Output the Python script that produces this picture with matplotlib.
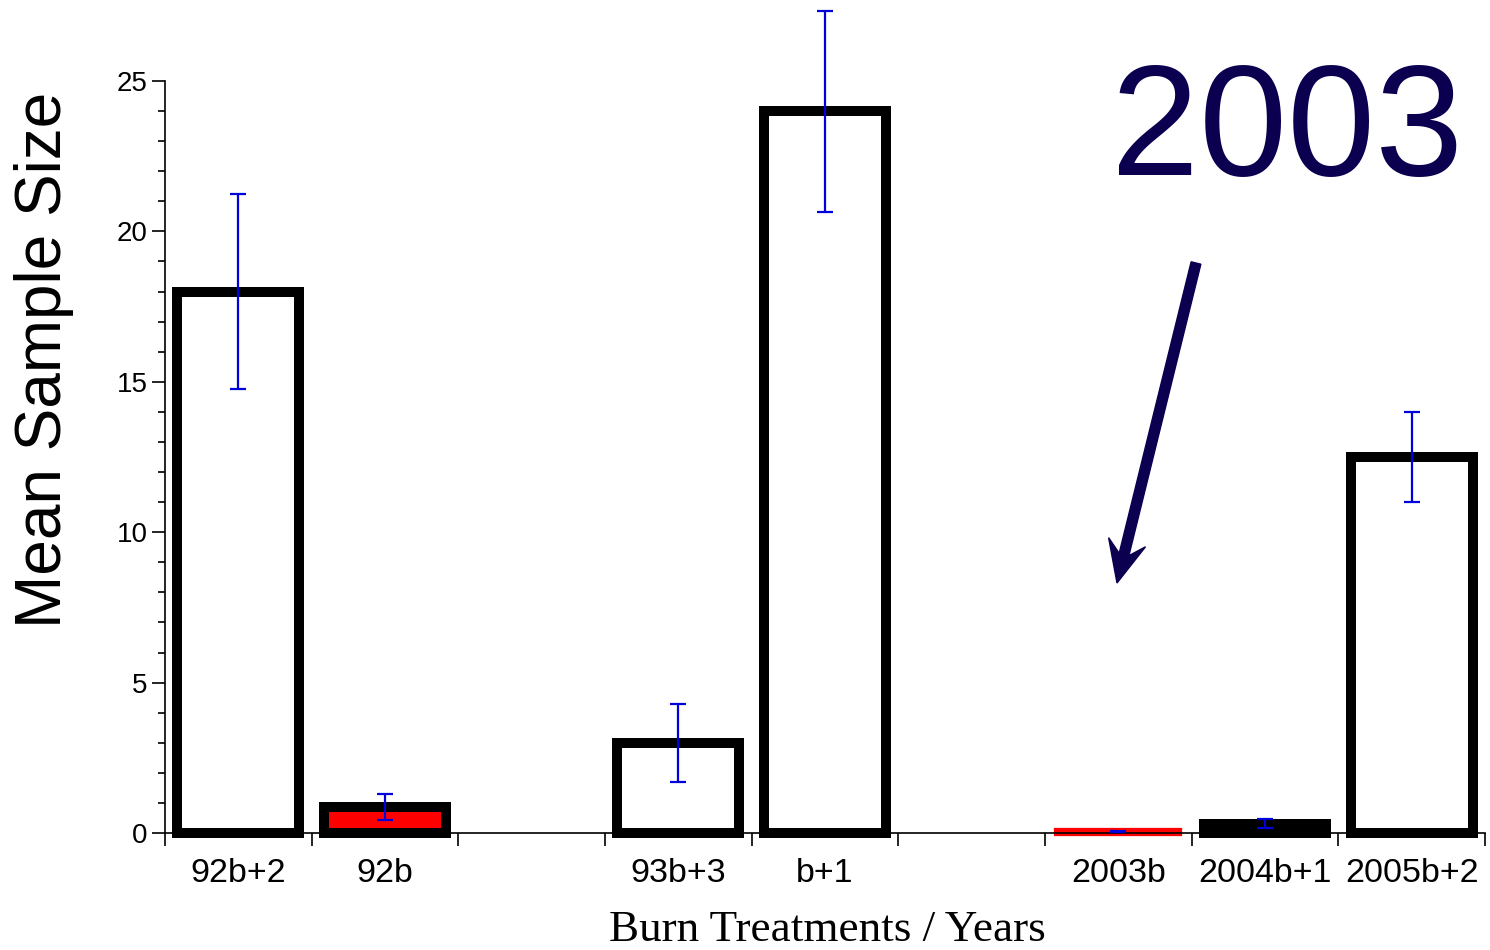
import numpy as np
import matplotlib
matplotlib.use('Agg')
import matplotlib.pyplot as plt
from matplotlib.patches import FancyArrow
from matplotlib.transforms import IdentityTransform

# slots along the x axis, '' marks an empty slot
categories = ['92b+2', '92b', '', '93b+3', 'b+1', '', '2003b', '2004b+1', '2005b+2']
means = [18.0, 0.85, None, 3.0, 24.0, None, 0.05, 0.3, 12.5]
errors = [3.24, 0.43, None, 1.3, 3.34, None, 0.02, 0.15, 1.48]
fills = ['white', 'red', None, 'white', 'white', None, 'red', 'black', 'white']
edges = ['black', 'black', None, 'black', 'black', None, 'red', 'black', 'black']

navy = '#0b0050'

plt.rcParams['font.family'] = ['Liberation Sans', 'DejaVu Sans']

fig = plt.figure(figsize=(14.9, 9.5), dpi=100)
ax = fig.add_axes([165 / 1490, 117 / 950, 1320 / 1490, 752 / 950])

x = np.arange(len(categories))
idx = [i for i, m in enumerate(means) if m is not None]
bx = x[idx]
bh = [means[i] for i in idx]
be = [errors[i] for i in idx]
lws = [4.5 if categories[i] == '2003b' else 7.2 for i in idx]

ax.bar(bx, bh, width=0.83, color=[fills[i] for i in idx],
       edgecolor=[edges[i] for i in idx], linewidth=lws, zorder=2,
       clip_on=False)
ax.errorbar(bx, bh, yerr=be, fmt='none', ecolor='#0000dd', elinewidth=1.6,
            capsize=6, capthick=1.6, zorder=3, clip_on=False)

ax.set_xlim(-0.5, len(categories) - 0.5)
ax.set_ylim(0, 25)

ax.spines['top'].set_visible(False)
ax.spines['right'].set_visible(False)
ax.spines['left'].set_linewidth(1.2)
ax.spines['bottom'].set_linewidth(1.2)

ax.set_xticks(x)
ax.set_xticklabels(categories, fontsize=24.5)
ax.set_xticks(np.arange(len(categories) + 1) - 0.5, minor=True)
ax.tick_params(axis='x', which='major', length=0, pad=18)
ax.tick_params(axis='x', which='minor', length=9, width=1.2, direction='out')

ax.set_yticks([0, 5, 10, 15, 20, 25])
ax.set_yticks(np.arange(0, 26, 1), minor=True)
ax.tick_params(axis='y', which='major', length=9.5, width=1.2, labelsize=20, pad=3)
ax.tick_params(axis='y', which='minor', length=5, width=1.2)

fig.text(44 / 1490, 1 - 360 / 950, 'Mean Sample Size', rotation=90,
         fontsize=46, ha='center', va='center')
fig.text(827 / 1490, 9 / 950, 'Burn Treatments / Years', fontsize=32.5,
         family=['Liberation Serif', 'DejaVu Serif'], ha='center', va='baseline')

fig.text(1287 / 1490, 1 - 175 / 950, '2003', fontsize=114, color=navy,
         ha='center', va='baseline')

arrow = FancyArrow(1196, 950 - 263, 1117 - 1196, (950 - 583) - (950 - 263),
                   width=10, head_width=38, head_length=42, overhang=0.3,
                   length_includes_head=True, color=navy,
                   transform=IdentityTransform())
fig.add_artist(arrow)

fig.savefig('out.png', dpi=100)
